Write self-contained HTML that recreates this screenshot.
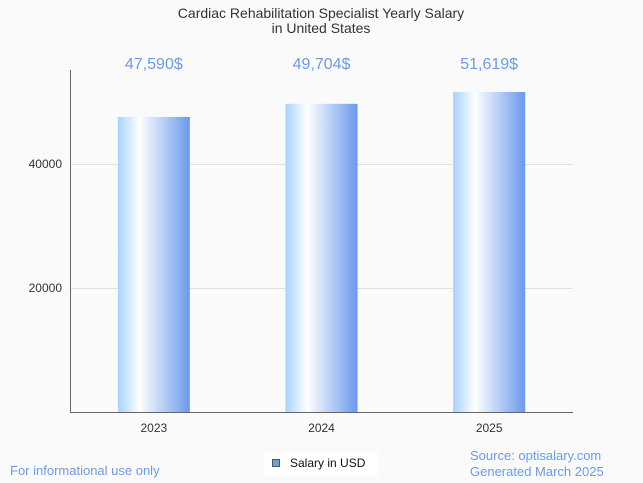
<!DOCTYPE html>
<html><head><meta charset="utf-8"><style>
body{margin:0;background:#fafafa;}
svg{display:block;font-family:"Liberation Sans",sans-serif;}
</style></head><body>
<svg id="c" width="643" height="483">
<defs><linearGradient id="g" x1="0" x2="1" y1="0" y2="0">
<stop offset="0" stop-color="#a6d2fe"/><stop offset="0.3" stop-color="#ffffff"/><stop offset="1" stop-color="#6a99ec"/>
</linearGradient></defs>
<text x="321" y="18" text-anchor="middle" font-size="14" fill="#333">Cardiac Rehabilitation Specialist Yearly Salary</text>
<text x="321" y="33" text-anchor="middle" font-size="14" fill="#333">in United States</text>
<g id="grid"></g><g id="bars"></g>
<line x1="70.5" y1="70" x2="70.5" y2="412.5" stroke="#666"/>
<line x1="70" y1="412.5" x2="573" y2="412.5" stroke="#666"/>
<text x="10" y="475" font-size="13" fill="#6c9be8">For informational use only</text>
<text x="470" y="460" font-size="13" fill="#6c9be8">Source: optisalary.com</text>
<text x="470" y="476" font-size="13" fill="#6c9be8">Generated March 2025</text>
<g>
<rect x="264" y="451" width="114" height="26" fill="#fff"/>
<rect x="272.5" y="459.5" width="7" height="7" fill="#6a9fe0" stroke="#555"/>
<text x="290" y="467" font-size="12" fill="#111">Salary in USD</text>
</g>
</svg>
<script>
const categories=["2023","2024","2025"];
const values=[47590,49704,51619];
const labels=["47,590$","49,704$","51,619$"];
const yTicks=[20000,40000];
const NS="http://www.w3.org/2000/svg";
const x0=70,x1=573,yBase=412,pxPer=124/20000;
const y=v=>yBase-v*pxPer;
const band=(x1-x0)/categories.length;
function mk(t,a,p){const e=document.createElementNS(NS,t);for(const k in a)e.setAttribute(k,a[k]);p.appendChild(e);return e;}
const grid=document.getElementById('grid'),bars=document.getElementById('bars');
yTicks.forEach(v=>{
 const l=mk('line',{x1:x0,x2:x1,y1:y(v)+.5,y2:y(v)+.5,stroke:'#e0e0e0'},grid);
 
 
 const t=mk('text',{x:62,y:y(v)+4,'text-anchor':'end','font-size':12,fill:'#333'},grid);t.textContent=v;
 
 
});
categories.forEach((c,i)=>{
 const cx=x0+band*(i+.5),w=72;
 const r=mk('rect',{x:cx-w/2,y:y(values[i]),width:w,height:yBase-y(values[i]),fill:'url(#g)'},bars);
 
 
 const t=mk('text',{x:cx,y:69,'text-anchor':'middle','font-size':16,fill:'#6c9be8'},bars);t.textContent=labels[i];
 
 
 const xt=mk('text',{x:cx,y:432,'text-anchor':'middle','font-size':12,fill:'#333'},bars);xt.textContent=c;
 
 
});
</script>
</body></html>
